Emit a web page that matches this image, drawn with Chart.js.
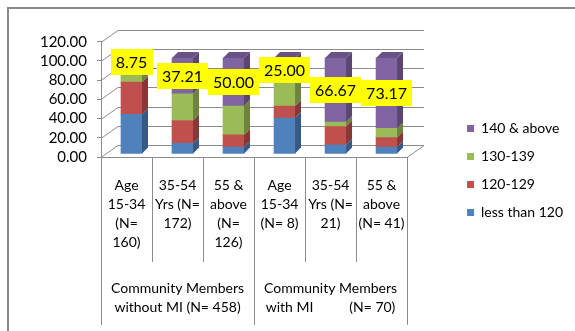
<!DOCTYPE html>
<html>
<head>
<meta charset="utf-8">
<script src="https://cdn.jsdelivr.net/npm/chart.js@4.4.0/dist/chart.umd.min.js"></script>
<style>
  html, body { margin: 0; padding: 0; background: #fff; }
</style>
</head>
<body>
<canvas id="myChart" width="575" height="331"></canvas>
<script>
// categories (age groups) and the two member groups under them
const ageGroups = [
  ['Age', '15-34', '(N=', '160)'],
  ['35-54', 'Yrs (N=', '172)'],
  ['55 &', 'above', '(N=', '126)'],
  ['Age', '15-34', '(N= 8)'],
  ['35-54', 'Yrs (N=', '21)'],
  ['55 &', 'above', '(N= 41)']
];
const memberGroups = [
  ['Community Members', 'without MI (N= 458)'],
  ['Community Members', 'with MI          (N= 70)']
];

// percentages per blood pressure band
const lessThan120 = [41.25, 11.05, 7.14, 37.50, 9.52, 7.32];
const bp120to129  = [33.75, 23.84, 12.70, 12.50, 19.05, 9.76];
const bp130to139  = [16.25, 27.91, 30.16, 25.00, 4.76, 9.76];
const bp140above  = [8.75, 37.21, 50.00, 25.00, 66.67, 73.17];

const yMin = 0, yMax = 120, yStep = 20;

const gridColor = '#8c8c8c';
const depth = 6;            // bar side / top face
const wallX = 17, wallY = 12; // back wall offset
const barShiftX = 5, barShiftY = -3;

function shade(hex, f) {
  const n = parseInt(hex.slice(1), 16);
  const r = Math.round(((n >> 16) & 255) * f);
  const g = Math.round(((n >> 8) & 255) * f);
  const b = Math.round((n & 255) * f);
  return 'rgb(' + r + ',' + g + ',' + b + ')';
}

const fake3d = {
  id: 'fake3d',
  beforeDraw(chart) {
    const ctx = chart.ctx;
    ctx.save();
    ctx.strokeStyle = '#8a8a8a';
    ctx.lineWidth = 2;
    ctx.beginPath();
    ctx.moveTo(8, chart.height);
    ctx.lineTo(8, 8);
    ctx.lineTo(chart.width, 8);
    ctx.stroke();
    ctx.restore();
  },
  beforeDatasetsDraw(chart) {
    const { ctx, chartArea: a, scales: { y } } = chart;
    ctx.save();
    ctx.strokeStyle = gridColor;
    ctx.lineWidth = 1;
    y.ticks.forEach(t => {
      const py = Math.round(y.getPixelForValue(t.value)) + 0.5;
      ctx.beginPath();
      ctx.moveTo(a.left, py);
      ctx.lineTo(a.left + wallX, py - wallY);
      ctx.lineTo(a.right + wallX, py - wallY);
      ctx.stroke();
    });
    const pb = Math.round(a.bottom) + 0.5;
    ctx.beginPath();
    ctx.moveTo(a.right, pb);
    ctx.lineTo(a.right + wallX, pb - wallY);
    ctx.stroke();
    ctx.restore();
    ctx.save();
    ctx.translate(barShiftX, barShiftY);
  },
  afterDatasetsDraw(chart) {
    const ctx = chart.ctx;
    const n = chart.data.datasets.length;
    chart.data.datasets.forEach((ds, i) => {
      const meta = chart.getDatasetMeta(i);
      meta.data.forEach(el => {
        const { x, y, base, width } = el.getProps(['x', 'y', 'base', 'width'], true);
        const l = x - width / 2, r = x + width / 2;
        ctx.fillStyle = shade(ds.backgroundColor, 0.7);
        ctx.beginPath();
        ctx.moveTo(r, base);
        ctx.lineTo(r, y);
        ctx.lineTo(r + depth, y - depth);
        ctx.lineTo(r + depth, base - depth);
        ctx.closePath();
        ctx.fill();
        if (i === n - 1) {
          ctx.fillStyle = shade(ds.backgroundColor, 0.82);
          ctx.beginPath();
          ctx.moveTo(l, y);
          ctx.lineTo(l + depth, y - depth);
          ctx.lineTo(r + depth, y - depth);
          ctx.lineTo(r, y);
          ctx.closePath();
          ctx.fill();
        }
      });
    });
    // value boxes for the top band
    const top = chart.getDatasetMeta(n - 1);
    ctx.font = '16px Lato';
    ctx.textAlign = 'center';
    ctx.textBaseline = 'middle';
    top.data.forEach((el, j) => {
      const { x, y, base } = el.getProps(['x', 'y', 'base'], true);
      const txt = bp140above[j].toFixed(2);
      const w = ctx.measureText(txt).width + 10, h = 26;
      const cy = (y + base) / 2;
      ctx.fillStyle = '#ffff00';
      ctx.fillRect(Math.round(x - w / 2), Math.round(cy - h / 2), Math.round(w), h);
      ctx.fillStyle = '#000';
      ctx.fillText(txt, x, cy + 1);
    });
    ctx.restore();
  }
};

Chart.defaults.font.family = 'Lato';
Chart.defaults.color = '#000';

new Chart(document.getElementById('myChart'), {
  type: 'bar',
  data: {
    labels: ageGroups,
    datasets: [
      { label: 'less than 120', data: lessThan120, backgroundColor: '#4f81bd' },
      { label: '120-129', data: bp120to129, backgroundColor: '#c0504d' },
      { label: '130-139', data: bp130to139, backgroundColor: '#9bbb59' },
      { label: '140 & above', data: bp140above, backgroundColor: '#8064a2' }
    ]
  },
  options: {
    responsive: false,
    animation: false,
    barThickness: 21,
    layout: { padding: { top: 10, right: 2, bottom: 0, left: 0 } },
    plugins: {
      title: { display: true, text: '', font: { size: 14 }, padding: { top: 0, bottom: 15 } },
      tooltip: { enabled: false },
      legend: {
        position: 'right',
        reverse: true,
        maxWidth: 160,
        labels: { boxWidth: 7, boxHeight: 7, padding: 14, font: { size: 14 }, color: '#000' }
      }
    },
    scales: {
      x: {
        stacked: true,
        offset: true,
        grid: { offset: true, drawOnChartArea: false, tickLength: 105, color: gridColor },
        border: { display: true, color: gridColor },
        ticks: { autoSkip: false, maxRotation: 0, padding: -86, font: { size: 14, lineHeight: 1.35 } },
        afterFit: s => { s.height = 105; }
      },
      x2: {
        type: 'category',
        labels: memberGroups,
        position: 'bottom',
        offset: true,
        grid: { offset: true, drawOnChartArea: false, tickLength: 63, color: gridColor },
        border: { display: false },
        ticks: { autoSkip: false, maxRotation: 0, padding: -46, font: { size: 14, lineHeight: 1.35 } },
        afterFit: s => { s.height = 69; }
      },
      y: {
        stacked: true,
        min: yMin,
        max: yMax,
        ticks: { stepSize: yStep, autoSkip: false, padding: 10, font: { size: 15 }, callback: v => v.toFixed(2) },
        grid: { drawOnChartArea: false, tickLength: 4, color: gridColor },
        border: { display: true, color: gridColor },
        afterFit: s => { s.width = 101; }
      },
      gap: {
        type: 'linear',
        position: 'right',
        grid: { display: false },
        ticks: { display: false },
        border: { display: false },
        afterFit: s => { s.width = 46; }
      }
    }
  },
  plugins: [fake3d]
});
</script>
</body>
</html>
